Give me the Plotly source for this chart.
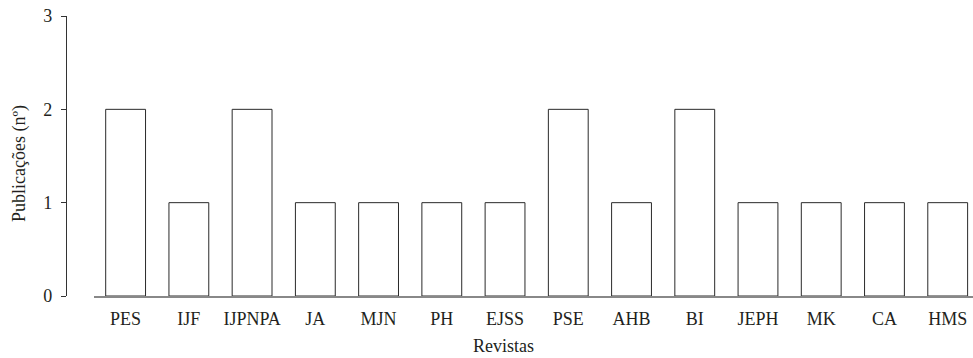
import plotly.graph_objects as go

revistas = ["PES", "IJF", "IJPNPA", "JA", "MJN", "PH", "EJSS", "PSE", "AHB", "BI", "JEPH", "MK", "CA", "HMS"]
publicacoes = [2, 1, 2, 1, 1, 1, 1, 2, 1, 2, 1, 1, 1, 1]
y_ticks = [0, 1, 2, 3]

W, H = 973, 358
ml, mr, mt, mb = 67, 0, 16, 62
pw = W - ml - mr
ph = H - mt - mb

font = "'Liberation Serif', 'Times New Roman', serif"
fs = 18

fig = go.Figure()
fig.add_trace(go.Bar(
    x=revistas, y=publicacoes,
    marker=dict(color="white", line=dict(color="#2a2a2a", width=1)),
    width=0.63,
))
# invisible helper so the separate y-axis (detached from the x-axis line) is drawn
fig.add_trace(go.Scatter(
    x=[0] * len(y_ticks), y=y_ticks, xaxis="x2", yaxis="y2",
    mode="markers", marker=dict(opacity=0), hoverinfo="skip", showlegend=False,
))

fig.update_layout(
    width=W, height=H,
    margin=dict(l=ml, r=mr, t=mt, b=mb, autoexpand=False),
    paper_bgcolor="white", plot_bgcolor="rgba(0,0,0,0)",
    showlegend=False,
    font=dict(family=font, size=fs, color="#231f20"),
    xaxis=dict(
        domain=[27 / pw, 1],
        range=[-0.5, 13.4],
        automargin=False,
        showline=True, linecolor="#888", linewidth=1.5,
        ticks="", showgrid=False, zeroline=False,
        ticklabelstandoff=6,
        tickfont=dict(family=font, size=fs),
    ),
    yaxis=dict(
        anchor="x",
        automargin=False,
        range=[0, 3],
        showline=False, showticklabels=False, ticks="",
        showgrid=False, zeroline=False,
    ),
    xaxis2=dict(
        domain=[0, 0.001], anchor="y2", range=[0, 1],
        visible=False, automargin=False,
    ),
    yaxis2=dict(
        anchor="x2",
        automargin=False,
        range=[0, 3], tickvals=y_ticks,
        showline=True, linecolor="#333", linewidth=1.2,
        ticks="outside", ticklen=5, tickcolor="#333",
        showgrid=False, zeroline=False,
        ticklabelstandoff=5,
        tickfont=dict(family=font, size=fs),
    ),
)

def px_to_paper_x(px):
    return (px - ml) / pw

def px_to_paper_y(py):
    return (H - mb - py) / ph

fig.add_annotation(text="Revistas", x=px_to_paper_x(503), y=px_to_paper_y(346),
                   xref="paper", yref="paper", showarrow=False,
                   xanchor="center", yanchor="middle", font=dict(family=font, size=fs))
fig.add_annotation(text="Publicações (nº)", x=px_to_paper_x(19), y=px_to_paper_y(164),
                   xref="paper", yref="paper", showarrow=False, textangle=-90,
                   xanchor="center", yanchor="middle", font=dict(family=font, size=fs))

fig.write_html(
    "out.html",
    config={"displayModeBar": False},
    post_script="document.body.style.margin='0';document.body.style.overflow='hidden';",
)
